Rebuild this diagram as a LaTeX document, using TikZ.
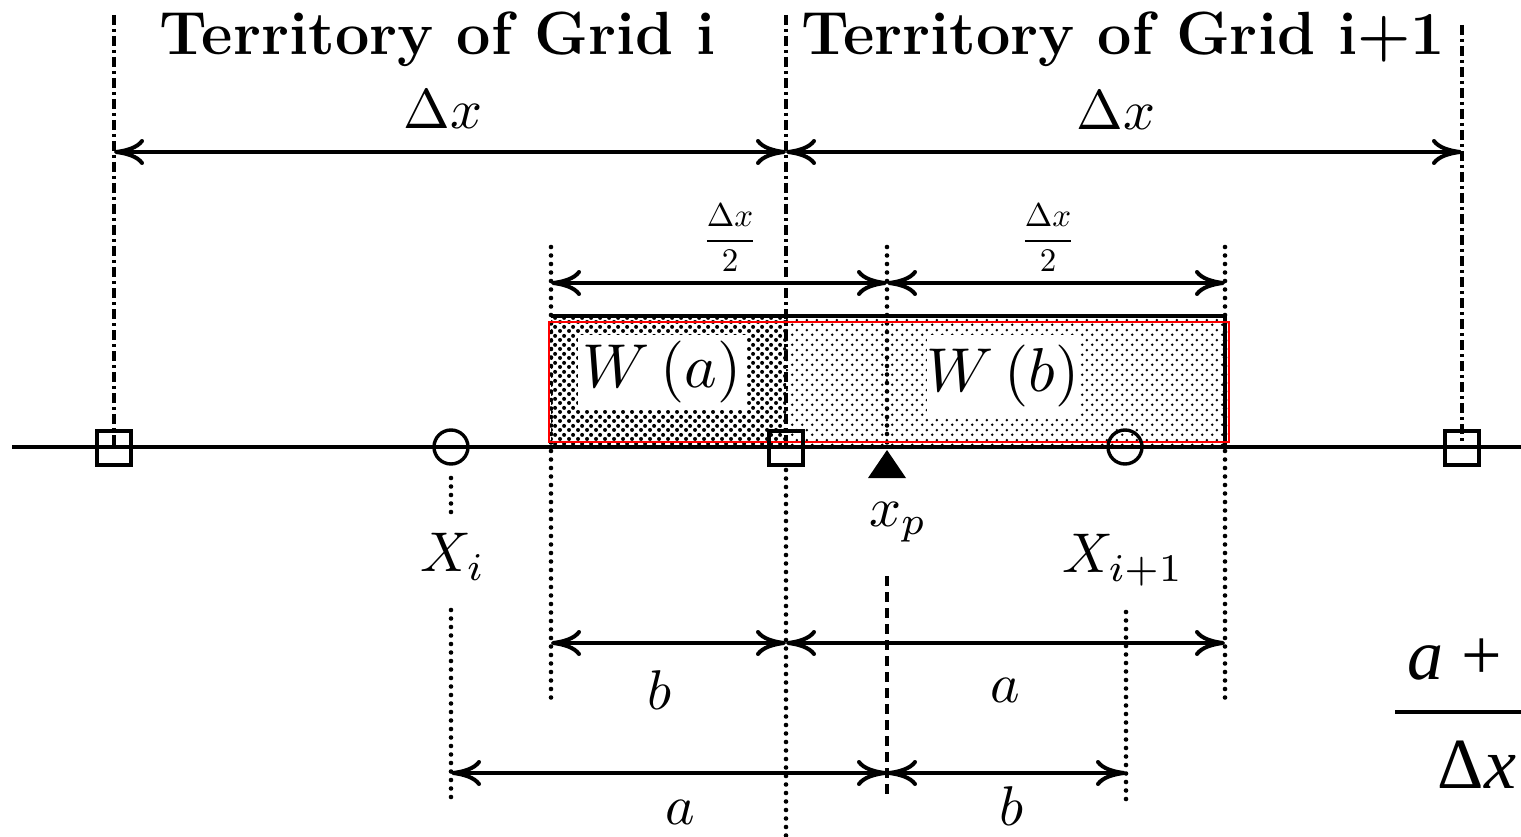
\documentclass[tikz,border=0pt]{standalone}
\usepackage[no-math]{fontspec}
\newfontfamily\cambria{Liberation Serif}
\usetikzlibrary{arrows.meta,patterns.meta}
\tikzdeclarepattern{
  name=densedots, type=uncolored,
  bounding box={(0pt,0pt) and (9pt,9pt)},
  tile size={(9pt,9pt)},
  code={\fill (2.25pt,2.25pt) circle (2.2pt); \fill (6.75pt,6.75pt) circle (2.2pt);}
}
\tikzdeclarepattern{
  name=sparsedots, type=uncolored,
  bounding box={(0pt,0pt) and (10pt,10pt)},
  tile size={(10pt,10pt)},
  code={\fill (2.5pt,2.5pt) circle (1.55pt); \fill (7.5pt,7.5pt) circle (1.55pt);}
}
\begin{document}
\begin{tikzpicture}[x=1pt,y=-1pt,
  dashdot/.style={line width=3.2pt, dash pattern=on 10pt off 4pt on 3pt off 4pt},
  dotline/.style={line width=4.6pt, line cap=round, dash pattern=on 0pt off 8.5pt},
  dashline/.style={line width=3.2pt, dash pattern=on 10pt off 6pt},
  dim/.style={line width=4pt, {Computer Modern Rightarrow[length=30pt,width=26pt]}-{Computer Modern Rightarrow[length=30pt,width=26pt]}},
  sq/.style={draw, line width=3.4pt, minimum size=34pt, inner sep=0pt},
  circ/.style={draw, circle, line width=3.4pt, minimum size=34pt, inner sep=0pt},
  ttl/.style={inner sep=0pt, anchor=base, font=\fontsize{61}{66}\selectfont\bfseries},
  lbl/.style={inner sep=0pt, scale=5.6},
  half/.style={inner sep=0pt, scale=3.3},
  wbox/.style={fill=white, inner sep=0pt},
  wtxt/.style={inner sep=0pt, scale=6.2},
  frac/.style={inner sep=0pt, font=\cambria\fontsize{72}{80}\selectfont}
]
\useasboundingbox (0,0) rectangle (1521,837);

% shaded window
\fill[pattern=densedots, pattern color=black] (551,318) rectangle (786,447);
\fill[pattern=sparsedots, pattern color=black] (786,318) rectangle (1225,447);
\draw[line width=4.5pt] (551,316) -- (1225,316) -- (1225,447);

% vertical guide lines
\coordinate (vLt) at (114,15);   \coordinate (vLb) at (114,447);
\coordinate (vMt) at (786,15);   \coordinate (vMb) at (786,447);
\coordinate (vMd) at (786,470);  \coordinate (vMe) at (786,837);
\coordinate (vRt) at (1462,25);  \coordinate (vRb) at (1462,447);
\draw[dashdot] (vLt) -- (vLb);
\draw[dashdot] (vMt) -- (vMb);
\draw[dashdot] (vRt) -- (vRb);
\draw[dotline] (vMd) -- (vMe);

\coordinate (wLt) at (551,247);  \coordinate (wLb) at (551,702);
\coordinate (wRt) at (1225,247); \coordinate (wRb) at (1225,702);
\coordinate (pT) at (887,247);   \coordinate (pB) at (887,447);
\coordinate (pD) at (887,576);   \coordinate (pE) at (887,800);
\coordinate (iA) at (451,478);   \coordinate (iB) at (451,512);
\coordinate (iC) at (451,610);   \coordinate (iD) at (451,800);
\coordinate (jC) at (1126,612);  \coordinate (jD) at (1126,800);
\draw[dotline] (wLt) -- (wLb);
\draw[dotline] (wRt) -- (wRb);
\draw[dotline] (pT) -- (pB);
\draw[dashline] (pD) -- (pE);
\draw[dotline] (iA) -- (iB);
\draw[dotline] (iC) -- (iD);
\draw[dotline] (jC) -- (jD);

% red frame
\draw[red, line width=2.8pt] (549,322) rectangle (1229,442);

% W labels
\node[wbox, minimum width=169pt, minimum height=75pt] (Wa) at (662,372) {};
\node[wbox, minimum width=153pt, minimum height=82pt] (Wb) at (1003,376) {};
\node[wtxt] (Wat) at (Wa) {\(W\,(a)\)};
\node[wtxt] (Wbt) at (Wb) {\(W\,(b)\)};

% axis
\coordinate (axL) at (12,447);
\coordinate (axR) at (1521,447);
\draw[line width=4pt] (axL) -- (axR);

% grid nodes and particles
\node[sq] (g0) at (114,448) {};
\node[sq] (g1) at (786,448) {};
\node[sq] (g2) at (1462,448) {};
\node[circ] (X0) at (451,447) {};
\node[circ] (X1) at (1125,447) {};
\coordinate (xp) at (887,450);
\fill (xp) -- ++(19,28) -- ++(-38,0) -- cycle;

% titles
\node[ttl] (t1) at (438,55) {Territory of Grid i};
\node[ttl] (t2) at (1123,55) {Territory of Grid i+1};

% Delta x arrows
\coordinate (a1) at (114,152); \coordinate (a2) at (786,152); \coordinate (a3) at (1462,152);
\draw[dim] (a1) -- (a2);
\draw[dim] (a2) -- (a3);
\node[lbl, anchor=base] (dx1) at (443,129) {\(\Delta x\)};
\node[lbl, anchor=base] (dx2) at (1116,130) {\(\Delta x\)};

% Delta x / 2 arrows
\coordinate (h1) at (551,283); \coordinate (h2) at (887,283); \coordinate (h3) at (1225,283);
\draw[dim] (h1) -- (h2);
\draw[dim] (h2) -- (h3);
\node[half] (hx1) at (730,238) {\(\displaystyle\frac{\Delta x}{2}\)};
\node[half] (hx2) at (1048,238) {\(\displaystyle\frac{\Delta x}{2}\)};

% point labels
\node[lbl] (lxp) at (898,522) {\(x_p\)};
\node[lbl] (lXi) at (453,557) {\(X_i\)};
\node[lbl] (lXj) at (1123,560) {\(X_{i+1}\)};

% b / a arrows
\coordinate (b1) at (551,643); \coordinate (b2) at (786,643); \coordinate (b3) at (1225,643);
\draw[dim] (b1) -- (b2);
\draw[dim] (b2) -- (b3);
\node[lbl] (lb1) at (660,690) {\(b\)};
\node[lbl] (la1) at (1005,690) {\(a\)};

% a / b arrows
\coordinate (c1) at (451,773); \coordinate (c2) at (887,773); \coordinate (c3) at (1126,773);
\draw[dim] (c1) -- (c2);
\draw[dim] (c2) -- (c3);
\node[lbl] (la2) at (680,812) {\(a\)};
\node[lbl] (lb2) at (1012,806) {\(b\)};

% partial fraction at right
\node[frac] (fnum) at (1455,660) {\textit{a} +};
\coordinate (fbL) at (1395,712); \coordinate (fbR) at (1521,712);
\draw[line width=4pt] (fbL) -- (fbR);
\node[frac] (fden) at (1477,765) {Δ\textit{x}};
\end{tikzpicture}
\end{document}
